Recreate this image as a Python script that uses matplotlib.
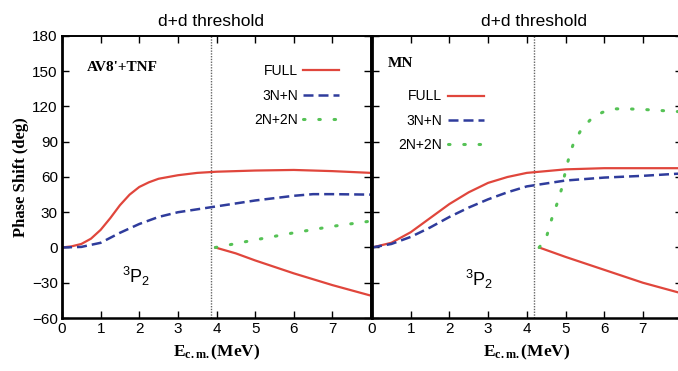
import numpy as np
import matplotlib.pyplot as plt

# ---- data: AV8'+TNF (left panel) ----
a_full_x = [0, 0.25, 0.5, 0.75, 1, 1.25, 1.5, 1.75, 2, 2.25, 2.5, 3, 3.5, 4, 5, 6, 7, 8]
a_full_y = [0, 1, 3, 7.5, 15, 25, 36, 45, 51.5, 55.5, 58.5, 61.5, 63.5, 64.5, 65.5, 66, 65, 63.5]
a_full2_x = [3.97, 4.5, 5, 6, 7, 8]
a_full2_y = [0, -5, -11, -22, -32, -41]
a_3n_x = [0, 0.5, 1, 1.5, 2, 2.5, 3, 4, 5, 6, 6.5, 7, 8]
a_3n_y = [0, 0.5, 4, 12.5, 20, 26, 30, 35, 40, 44, 45.4, 45.4, 45]
a_2n_x = [3.97, 5, 6, 7, 8]
a_2n_y = [0, 6.5, 12.5, 18, 22.5]
a_thr = 3.85

# ---- data: MN (right panel) ----
m_full_x = [0, 0.5, 1, 1.5, 2, 2.5, 3, 3.5, 4, 5, 6, 7, 8]
m_full_y = [0, 4, 13, 25, 37, 47, 55, 60, 63.5, 66.5, 67.5, 67.5, 67.5]
m_full2_x = [4.32, 5, 6, 7, 8]
m_full2_y = [0, -8, -19, -30, -39]
m_3n_x = [0, 0.5, 1, 1.5, 2, 2.5, 3, 3.5, 4, 5, 6, 7, 8]
m_3n_y = [0, 3, 9, 17, 26, 34, 41, 47, 52, 57, 59.5, 61, 63]
m_2n_x = [4.32, 4.5, 4.65, 4.8, 4.9, 5.0, 5.1, 5.2, 5.4, 5.65, 5.95, 6.3, 6.6, 7, 7.5, 8]
m_2n_y = [0, 8, 25, 39, 50, 65, 78, 88, 100, 109, 115, 118, 118, 117.5, 116.5, 115.5]
m_thr = 4.19

red = '#e0463c'
blue = '#2f3c9c'
green = '#55c255'

plt.rcParams['font.family'] = ['Liberation Sans', 'DejaVu Sans']
plt.rcParams['mathtext.fontset'] = 'custom'
plt.rcParams['mathtext.bf'] = 'Liberation Serif:bold'
plt.rcParams['mathtext.rm'] = 'Liberation Sans'
plt.rcParams['mathtext.it'] = 'Liberation Sans:italic'

fig = plt.figure(figsize=(6.78, 3.71), dpi=100)
ax1 = fig.add_axes([62 / 678, 1 - 318 / 371, 309 / 678, 282 / 371])
ax2 = fig.add_axes([372 / 678, 1 - 318 / 371, 8 * 38.7 / 678, 282 / 371])

serif_bold = dict(family='Liberation Serif', weight='bold')


def draw(ax, fx, fy, f2x, f2y, nx, ny, gx, gy, thr):
    ax.axvline(thr, color='#666666', ls=(0, (1, 1)), lw=1.0)
    l1, = ax.plot(fx, fy, color=red, lw=1.6, label='FULL')
    ax.plot(f2x, f2y, color=red, lw=1.6)
    l2, = ax.plot(nx, ny, color=blue, lw=1.8, ls=(0, (4, 2)), label='3N+N')
    l3, = ax.plot(gx, gy, color=green, lw=2.2, ls=(0, (0.5, 4.5)),
                  dash_capstyle='round', label='2N+2N')
    ax.set_xlim(0, 8)
    ax.set_ylim(-60, 180)
    ax.set_xticks(range(0, 9))
    ax.set_yticks(range(-60, 181, 30))
    ax.tick_params(direction='in', top=True, right=True, length=5, width=1,
                   labelsize=11, pad=3)
    for s in ax.spines.values():
        s.set_linewidth(1.4)
    ax.spines['left'].set_linewidth(2.0)
    ax.spines['bottom'].set_linewidth(1.8)
    ax.text(thr, 186, 'd+d threshold', ha='center', va='bottom', fontsize=12.5)
    ax.set_xlabel(r'$\mathbf{E}_{\mathbf{c.m.}}$(MeV)', fontsize=12.5,
                  labelpad=5, **serif_bold)
    return [l1, l2, l3]


h1 = draw(ax1, a_full_x, a_full_y, a_full2_x, a_full2_y, a_3n_x, a_3n_y,
          a_2n_x, a_2n_y, a_thr)
h2 = draw(ax2, m_full_x, m_full_y, m_full2_x, m_full2_y, m_3n_x, m_3n_y,
          m_2n_x, m_2n_y, m_thr)

ax1.set_xticklabels(['0', '1', '2', '3', '4', '5', '6', '7', ''])
ax2.set_xticklabels(['0', '1', '2', '3', '4', '5', '6', '7', ''])
ax2.set_yticklabels([])
ax1.set_ylabel('Phase Shift (deg)', fontsize=12, labelpad=2, **serif_bold)

ax1.text(0.65, 153, "AV8'+TNF", fontsize=11, va='center', **serif_bold)
ax2.text(0.4, 157, 'MN', fontsize=11, va='center', **serif_bold)

ax1.text(1.55, -25, r'$^{3}$P$_{2}$', fontsize=13, va='center')
ax2.text(2.4, -27, r'$^{3}$P$_{2}$', fontsize=13, va='center')

ax1.legend(handles=h1, loc='upper right', bbox_to_anchor=(0.92, 0.925),
           frameon=False, markerfirst=False, fontsize=10, handlelength=2.6,
           handletextpad=0.4, labelspacing=0.75, borderpad=0)
ax2.legend(handles=h2, loc='upper left', bbox_to_anchor=(0.063, 0.835),
           frameon=False, markerfirst=False, fontsize=10, handlelength=2.6,
           handletextpad=0.4, labelspacing=0.75, borderpad=0)

fig.savefig('out.png', dpi=100)
